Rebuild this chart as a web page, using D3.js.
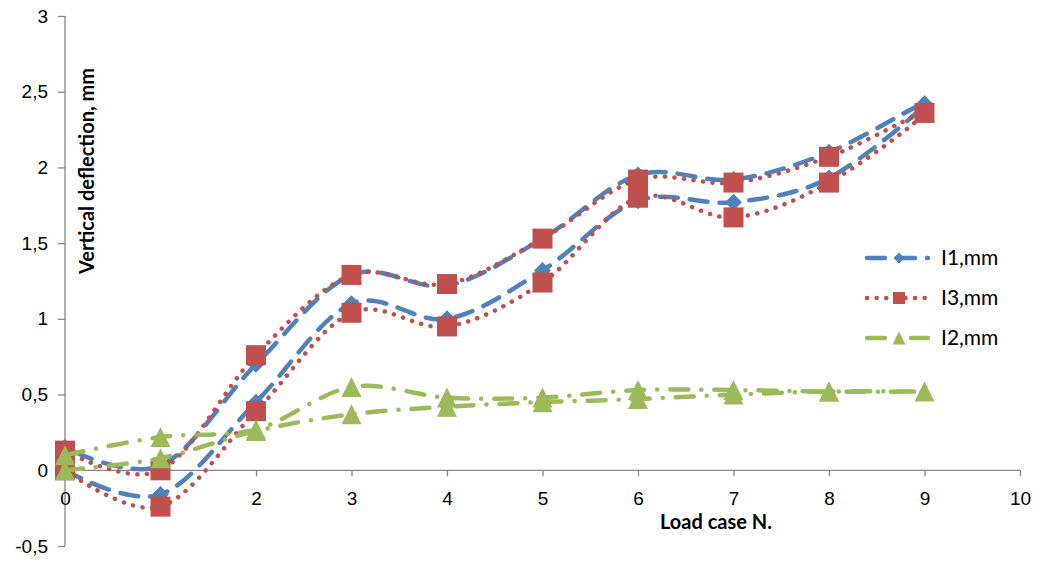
<!DOCTYPE html>
<html>
<head>
<meta charset="utf-8">
<script src="https://cdn.jsdelivr.net/npm/d3@7"></script>
<style>
  body { margin: 0; background: #fff; }
  svg { display: block; font-family: Lato, "Noto Sans", sans-serif; }
</style>
</head>
<body>
<svg id="chart" width="1039" height="566"></svg>
<script>
// load cases on the x axis (loading goes 0 -> 9, unloading 9 -> 0)
const loadCases = [0, 1, 2, 3, 4, 5, 6, 7, 8, 9];
const backCases = [8, 7, 6, 5, 4, 3, 2, 1, 0];

// I1, mm
const i1Load = [0.0, -0.16, 0.45, 1.10, 1.00, 1.32, 1.78, 1.77, 1.93, 2.42];
const i1Unload = [2.10, 1.92, 1.95, 1.53, 1.22, 1.29, 0.70, 0.03, 0.15];
// I3, mm
const i3Load = [0.0, -0.24, 0.39, 1.04, 0.95, 1.24, 1.80, 1.67, 1.90, 2.36];
const i3Unload = [2.07, 1.90, 1.92, 1.53, 1.23, 1.29, 0.76, 0.0, 0.13];
// I2, mm
const i2Load = [0.0, 0.08, 0.26, 0.37, 0.42, 0.45, 0.47, 0.50, 0.52, 0.52];
const i2Unload = [0.52, 0.53, 0.53, 0.48, 0.48, 0.55, 0.27, 0.22, 0.10];

const xTicks = [0, 1, 2, 3, 4, 5, 6, 7, 8, 9, 10];
const yTicks = [-0.5, 0, 0.5, 1, 1.5, 2, 2.5, 3];

const svg = d3.select("#chart");

const x = d3.scaleLinear().domain([0, 10]).range([65, 1020]);
const y = d3.scaleLinear().domain([-0.5, 3]).range([546, 16]);

const axisColor = "#868686";
const fmt = v => d3.format("")(v).replace(".", ",").replace("−", "-");

// y axis
const yAxis = svg.append("g")
    .attr("transform", `translate(${x(0)},0)`)
    .call(d3.axisLeft(y).tickValues(yTicks).tickSize(7).tickPadding(10).tickFormat(fmt));
// x axis along zero line
const xAxis = svg.append("g")
    .attr("transform", `translate(0,${y(0)})`)
    .call(d3.axisBottom(x).tickValues(xTicks).tickSize(6).tickPadding(15).tickFormat(fmt));

[yAxis, xAxis].forEach(a => {
    a.select(".domain").attr("stroke", axisColor).attr("stroke-width", 1.3);
    a.selectAll(".tick line").attr("stroke", axisColor).attr("stroke-width", 1.3);
    a.selectAll(".tick text").attr("fill", "#000").style("font-size", "19px");
});
xAxis.select(".domain").attr("d", `M${x(0)},0H${x(10)}`);
yAxis.select(".domain").attr("d", `M0,${y(3)}V${y(-0.5)}`);
xAxis.selectAll(".tick line").attr("y2", 6);

// axis titles
svg.append("text")
    .attr("transform", `translate(94,171) rotate(-90)`)
    .attr("text-anchor", "middle")
    .style("font-size", "20px").style("font-weight", "bold")
    .text("Vertical deflection, mm");
svg.append("text")
    .attr("x", 716).attr("y", 529)
    .attr("text-anchor", "middle")
    .style("font-size", "20px").style("font-weight", "bold")
    .text("Load case N.");

// custom marker shapes
const diamond = {
    draw(ctx, size) {
        const r = Math.sqrt(size) / 2;
        ctx.moveTo(0, -r); ctx.lineTo(r, 0); ctx.lineTo(0, r); ctx.lineTo(-r, 0); ctx.closePath();
    }
};
const triangle = {
    draw(ctx, size) {
        const r = Math.sqrt(size) / 2;
        ctx.moveTo(0, -r); ctx.lineTo(r, r); ctx.lineTo(-r, r); ctx.closePath();
    }
};

const series = [
    { name: "I1,mm", color: "#4F81BD", dash: "18 12", load: i1Load, unload: i1Unload,
      shape: diamond, size: 17 * 17, legendSize: 11 * 11 },
    { name: "I3,mm", color: "#C0504D", dash: "0.1 9.5", load: i3Load, unload: i3Unload,
      shape: d3.symbolSquare, size: 20 * 20, legendSize: 12 * 12 },
    { name: "I2,mm", color: "#9BBB59", dash: "18 13 0.1 13", load: i2Load, unload: i2Unload,
      shape: triangle, size: 20 * 20, legendSize: 13 * 13 }
];

const line = d3.line()
    .x(d => x(d[0]))
    .y(d => y(d[1]))
    .curve(d3.curveCardinal.tension(0));

series.forEach(s => {
    const pts = loadCases.map((c, i) => [c, s.load[i]])
        .concat(backCases.map((c, i) => [c, s.unload[i]]));

    svg.append("path")
        .attr("d", line(pts))
        .attr("fill", "none")
        .attr("stroke", s.color)
        .attr("stroke-width", 4.5)
        .attr("stroke-linecap", "round")
        .attr("stroke-dasharray", s.dash);

    svg.append("g").selectAll("path")
        .data(pts)
        .enter().append("path")
        .attr("transform", d => `translate(${x(d[0])},${y(d[1])})`)
        .attr("d", d3.symbol().type(s.shape).size(s.size))
        .attr("fill", s.color);
});

// legend
const legend = svg.append("g");
series.forEach((s, i) => {
    const ly = 258 + i * 40;
    legend.append("line")
        .attr("x1", 867).attr("x2", 928)
        .attr("y1", ly).attr("y2", ly)
        .attr("stroke", s.color)
        .attr("stroke-width", 4.5)
        .attr("stroke-linecap", "round")
        .attr("stroke-dasharray", s.dash);
    legend.append("path")
        .attr("transform", `translate(899,${ly})`)
        .attr("d", d3.symbol().type(s.shape).size(s.legendSize))
        .attr("fill", s.color);
    legend.append("text")
        .attr("x", 941).attr("y", ly + 7)
        .style("font-size", "21px")
        .text(s.name);
});
</script>
</body>
</html>
